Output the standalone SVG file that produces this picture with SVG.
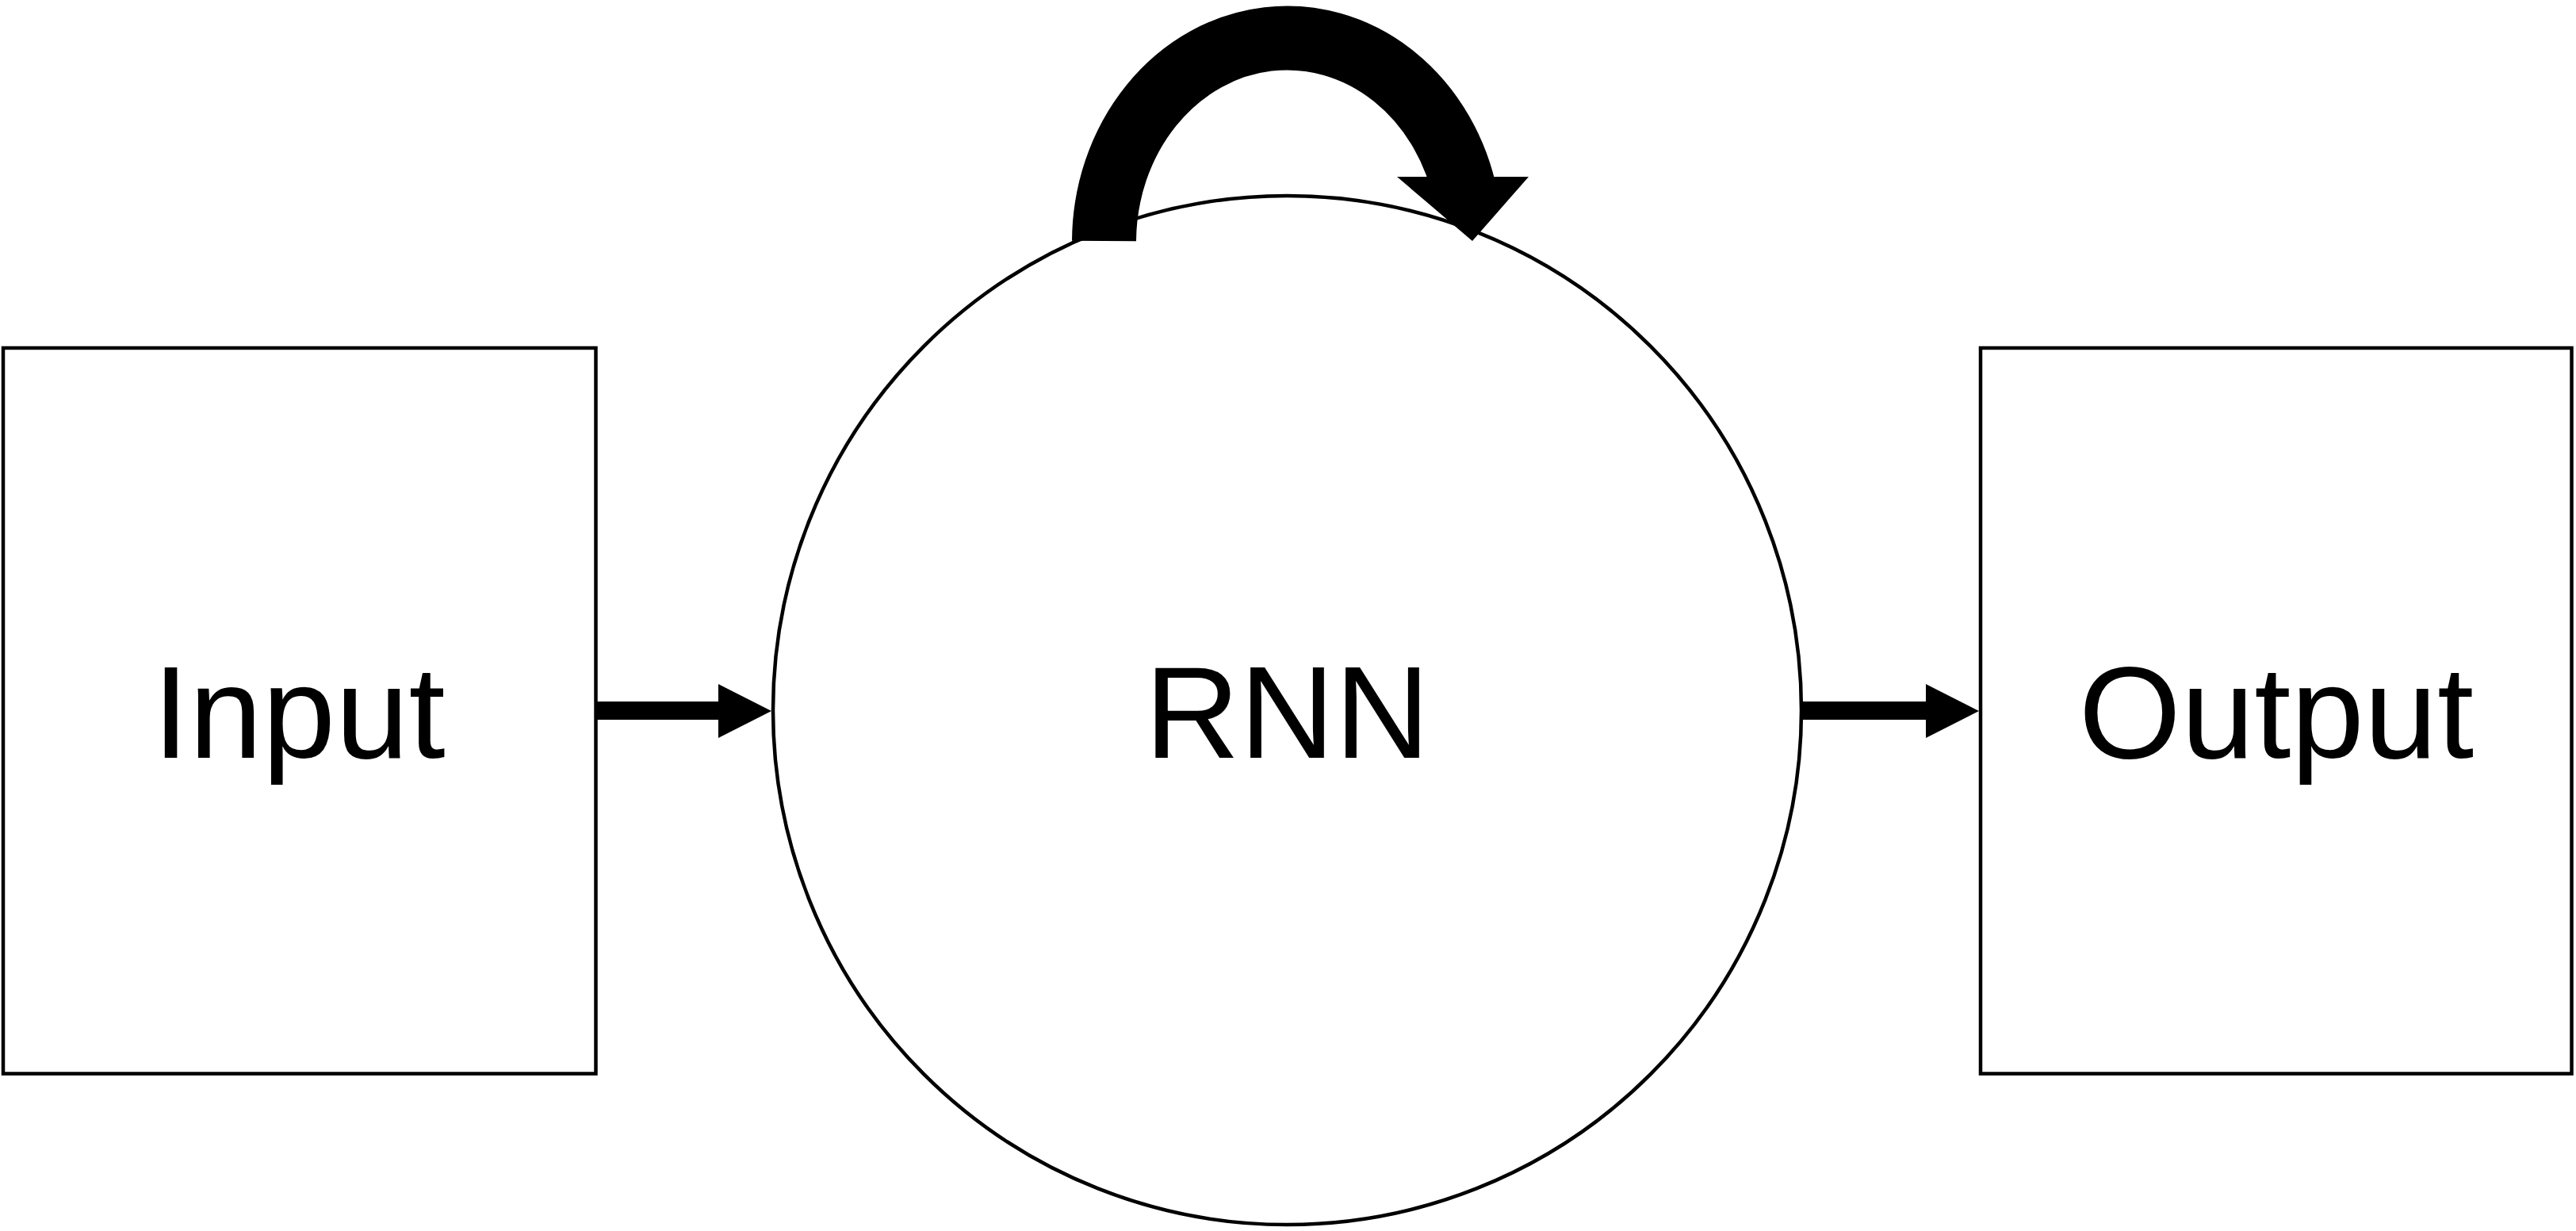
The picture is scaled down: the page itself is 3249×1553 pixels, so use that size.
<svg xmlns="http://www.w3.org/2000/svg" width="3249" height="1553" viewBox="0 0 3249 1553">
  <style>
    .box { fill: #ffffff; stroke: #000000; stroke-width: 4.5; }
    .lbl { font-family: "Liberation Sans", Arial, Helvetica, sans-serif; font-size: 166px; fill: #000000; text-anchor: middle; }
    .shaft { stroke: #000000; stroke-width: 23; fill: none; }
    .head { fill: #000000; stroke: none; }
    .loop { stroke: #000000; stroke-width: 81; fill: none; stroke-linecap: butt; }
  </style>
  <rect width="3249" height="1553" fill="#ffffff"/>
  <g id="node-input">
    <rect class="box" x="4" y="439" width="747.5" height="915.5"/>
    <text class="lbl" x="377" y="956">Input</text>
  </g>
  <g id="node-rnn">
    <ellipse class="box" cx="1623.5" cy="896" rx="648.5" ry="649"/>
    <text class="lbl" x="1623.5" y="956">RNN</text>
  </g>
  <g id="node-output">
    <rect class="box" x="2498" y="439" width="745.5" height="915.5"/>
    <text class="lbl" x="2871" y="956">Output</text>
  </g>
  <g id="connectors">
    <g id="edge-input-rnn">
      <line class="shaft" x1="751.5" y1="896.5" x2="908" y2="896.5"/>
      <polygon class="head" points="906,863 973,897 906,931"/>
    </g>
    <g id="edge-rnn-output">
      <line class="shaft" x1="2272" y1="896.5" x2="2431" y2="896.5"/>
      <polygon class="head" points="2429,863 2496,897 2429,931"/>
    </g>
    <g id="edge-rnn-loop">
      <path class="loop" d="M1392.5,304 A231,258 0 0 1 1849,250"/>
      <polygon class="head" points="1762,223 1928,223 1857,304"/>
    </g>
  </g>
</svg>
